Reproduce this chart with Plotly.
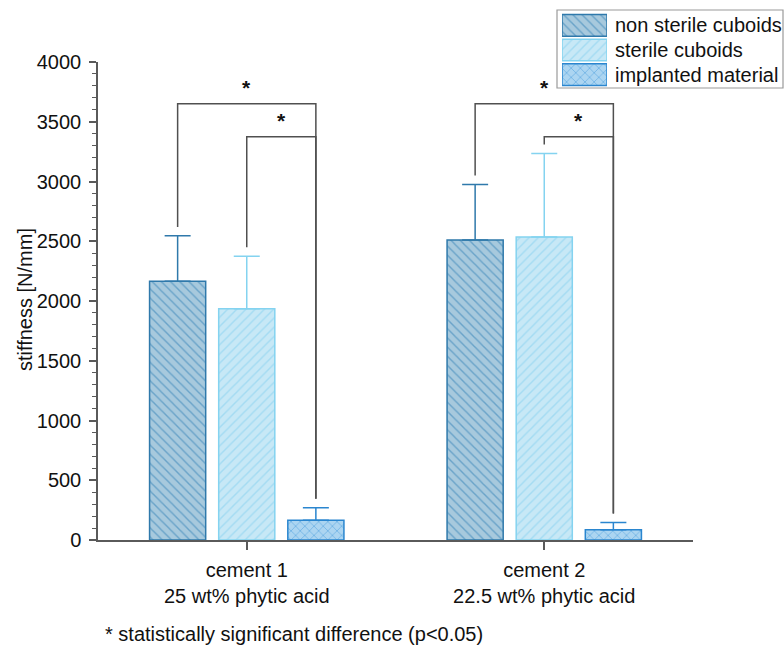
import plotly.graph_objects as go

# ---- data -------------------------------------------------------------
groups = ["cement 1<br>25 wt% phytic acid", "cement 2<br>22.5 wt% phytic acid"]
series_names = ["non sterile cuboids", "sterile cuboids", "implanted material"]

non_sterile = [2165, 2510]
non_sterile_sd = [380, 465]
sterile = [1935, 2535]
sterile_sd = [440, 700]
implanted = [165, 85]
implanted_sd = [105, 62]

y_ticks = [0, 500, 1000, 1500, 2000, 2500, 3000, 3500, 4000]

# significance brackets: (group, bar from, bar to, bracket height)
brackets = [
    (0, 0, 2, 3650),
    (0, 1, 2, 3375),
    (1, 0, 2, 3650),
    (1, 1, 2, 3375),
]
footnote = "* statistically significant difference (p<0.05)"

# ---- styling ----------------------------------------------------------
W, H = 784, 646
FONT = "Liberation Sans, Arial, sans-serif"
AXIS = "#5a5a5a"
TEXT = "#111111"
styles = [
    dict(shape="\\", bg="#a7c9dd", fg="#2b7db4", line="#2f79ab"),
    dict(shape="/", bg="#c7e8f6", fg="#80ceee", line="#84d3f0"),
    dict(shape="x", bg="#acd5f1", fg="#2b8cd6", line="#2a86cf"),
]
BARGAP = 0.303
GROUPGAP = 0.188

means = [non_sterile, sterile, implanted]
sds = [non_sterile_sd, sterile_sd, implanted_sd]
xpos = list(range(len(groups)))


def bar_marker(st):
    return dict(
        color=st["bg"],
        line=dict(color=st["line"], width=1.5),
        pattern=dict(shape=st["shape"], bgcolor=st["bg"], fgcolor=st["fg"],
                     size=6.5, solidity=0.22, fillmode="overlay"),
    )


fig = go.Figure()
for name, m, s, st in zip(series_names, means, sds, styles):
    fig.add_trace(go.Bar(
        x=xpos, y=m, name=name, showlegend=False,
        marker=bar_marker(st),
        error_y=dict(type="data", symmetric=False, array=s, arrayminus=[0] * len(s),
                     color=st["line"], thickness=1.5, width=13),
    ))

# ---- significance brackets ---------------------------------------------
slot = (1 - BARGAP) / len(series_names)
clearance = 75
for g, a, b, level in brackets:
    xa = g + (a - 1) * slot
    xb = g + (b - 1) * slot
    ya = means[a][g] + sds[a][g] + clearance
    yb = means[b][g] + sds[b][g] + clearance
    fig.add_shape(type="path", xref="x", yref="y",
                  path=f"M {xa},{ya} L {xa},{level} L {xb},{level} L {xb},{yb}",
                  line=dict(color="#505050", width=1.5))
    fig.add_annotation(x=(xa + xb) / 2, y=level, xref="x", yref="y", text="<b>*</b>",
                       showarrow=False, yanchor="bottom", yshift=3,
                       font=dict(family=FONT, size=21, color=TEXT))

# ---- legend (swatches drawn as bars on an inset axis) -------------------
rows = [2, 1, 0]
for name, row, st in zip(series_names, rows, styles):
    fig.add_trace(go.Bar(
        x=[1], y=[row], orientation="h", xaxis="x2", yaxis="y2",
        width=0.88, offset=-0.44, showlegend=False, hoverinfo="skip",
        marker=bar_marker(st),
    ))
    fig.add_annotation(x=613 / W, y=row, xref="paper", yref="y2", text=name,
                       showarrow=False, xanchor="left", yanchor="middle",
                       font=dict(family=FONT, size=20, color=TEXT))
fig.add_shape(type="rect", xref="paper", yref="paper",
              x0=557 / W, x1=783 / W, y0=1 - 88 / H, y1=1 - 10 / H,
              line=dict(color="#9a9a9a", width=1.2), fillcolor="rgba(0,0,0,0)", layer="below")

# ---- axis title and footnote --------------------------------------------
fig.add_annotation(x=25 / W, y=1 - 300 / H, xref="paper", yref="paper",
                   text="stiffness [N/mm]", textangle=-90, showarrow=False,
                   xanchor="center", yanchor="middle",
                   font=dict(family=FONT, size=20, color=TEXT))
fig.add_annotation(x=103 / W, y=1 - 634 / H, xref="paper", yref="paper",
                   text=footnote, showarrow=False, xanchor="left", yanchor="middle",
                   font=dict(family=FONT, size=20, color=TEXT))

fig.update_layout(
    width=W, height=H,
    margin=dict(l=0, r=0, t=0, b=0, pad=0, autoexpand=False),
    paper_bgcolor="white", plot_bgcolor="white",
    barmode="group", bargap=BARGAP, bargroupgap=GROUPGAP,
    font=dict(family=FONT, size=20, color=TEXT),
    xaxis=dict(
        domain=[98 / W, 693 / W], range=[-0.5, 1.5], automargin=False,
        tickvals=xpos, ticktext=groups,
        showline=True, linecolor=AXIS, linewidth=1.5,
        ticks="outside", ticklen=8, tickwidth=1.5, tickcolor=AXIS,
        ticklabelstandoff=3,
        showgrid=False, zeroline=False,
        tickfont=dict(family=FONT, size=20, color=TEXT),
    ),
    yaxis=dict(
        domain=[1 - 540 / H, 1 - 62 / H], range=[0, 4000], automargin=False,
        tickvals=y_ticks,
        showline=True, linecolor=AXIS, linewidth=1.5,
        ticks="outside", ticklen=7, tickwidth=1.5, tickcolor=AXIS,
        ticklabelstandoff=4,
        minor=dict(dtick=100, ticks="outside", ticklen=4, tickwidth=1.2, tickcolor=AXIS),
        showgrid=False, zeroline=False,
        tickfont=dict(family=FONT, size=20, color=TEXT),
    ),
    xaxis2=dict(domain=[562 / W, 607 / W], range=[0, 1], anchor="y2", visible=False,
                automargin=False, fixedrange=True),
    yaxis2=dict(domain=[1 - 87 / H, 1 - 13 / H], range=[-0.5, 2.5], anchor="x2",
                visible=False, automargin=False, fixedrange=True),
)

fig.write_html("out.html")
